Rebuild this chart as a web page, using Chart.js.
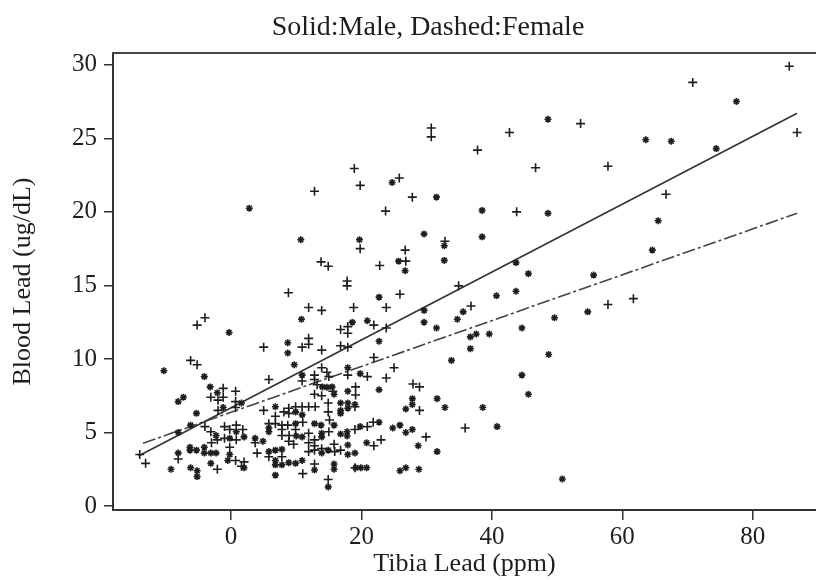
<!DOCTYPE html>
<html>
<head>
<meta charset="utf-8">
<script src="https://cdn.jsdelivr.net/npm/chart.js@4.4.1/dist/chart.umd.min.js"></script>
<style>
html,body{margin:0;padding:0;background:#fff;overflow:hidden;}
#wrap{width:816px;height:580px;position:relative;}
</style>
</head>
<body>
<div id="wrap"><canvas id="c"></canvas></div>
<script>
const titleText = "Solid:Male, Dashed:Female";
const xTitle = "Tibia Lead (ppm)";
const yTitle = "Blood Lead (ug/dL)";
const xTicks = [0, 20, 40, 60, 80];
const yTicks = [0, 5, 10, 15, 20, 25, 30];

// "+" markers: [tibia lead, blood lead]
const malePoints = [
 [30.7,25.7],[30.7,25.1],[18.9,22.95],[19.8,21.8],[12.8,21.4],[25.8,22.3],[27.8,21.0],[23.7,20.05],[19.8,17.5],[32.8,18.0],
 [26.7,17.4],[13.8,16.6],[14.9,16.3],[22.8,16.35],[26.8,16.65],[17.8,15.3],[17.8,14.97],[34.9,14.97],
 [85.6,29.9],[70.8,28.8],[86.8,25.4],[42.7,25.4],[53.6,26.0],[37.8,24.2],[46.7,23.0],[57.8,23.1],[43.8,20.0],[66.7,21.2],
 [36.8,13.6],[57.8,13.7],[61.7,14.1],[35.9,5.3],
 [-4.0,12.8],[-5.2,12.3],[-6.2,9.9],[-5.2,9.6],[-1.2,8.0],[0.7,7.8],
 [8.8,14.5],[11.9,13.5],[13.9,13.3],[18.8,13.5],[16.8,12.0],[17.9,12.2],[17.9,11.75],[11.9,11.4],[11.9,11.0],[10.9,10.8],
 [5.0,10.8],[13.9,10.6],[16.8,10.9],[17.9,10.8],[5.8,8.6],[13.9,9.4],[14.7,9.1],[17.9,8.9],[12.8,8.9],[12.8,8.6],
 [10.9,8.5],[15.0,8.8],[19.1,8.1],[13.2,8.25],
 [25.9,14.4],[23.8,13.5],[21.9,12.3],[23.8,12.1],[21.9,10.1],[25.0,9.4],[20.9,8.8],[23.8,8.7],[27.9,8.3],[28.9,8.1],
 [-3.1,7.4],[-2.0,7.2],[-1.2,7.4],[-2.0,6.5],[0.7,7.1],[0.7,6.7],[-4.0,5.4],[-3.1,5.05],[-1.0,5.4],[-0.2,5.2],
 [-1.0,4.6],[0.8,5.5],[1.8,5.2],[-3.0,4.3],[-2.1,4.5],[-0.2,4.0],[-8.1,3.2],[-14.0,3.5],[-13.1,2.9],[-2.1,2.5],
 [0.7,3.1],[1.6,2.7],[0.8,4.5],
 [12.8,7.6],[13.9,7.5],[15.6,7.8],[19.1,7.55],[5.0,6.5],[8.1,6.4],[8.85,6.65],[8.85,6.3],[9.9,6.75],[10.9,6.75],
 [11.9,6.75],[12.9,6.75],[14.9,7.0],[14.9,6.4],[19.0,6.75],[6.8,6.1],[5.8,5.6],[6.8,5.6],[7.8,5.5],[8.7,5.5],
 [11.0,5.7],[7.8,5.2],[9.9,5.2],[7.8,4.8],[8.9,4.8],[15.0,5.05],[19.0,5.2],[3.7,4.3],[4.0,3.6],[8.85,4.4],
 [9.6,4.2],[11.9,4.3],[12.8,4.5],[12.8,4.1],[12.8,3.8],[13.9,3.9],[11.9,3.7],[15.8,4.2],[15.9,3.7],[16.8,3.8],
 [5.8,3.35],[7.8,3.35],[11.0,2.2],[12.8,2.86],[14.9,1.8],[19.0,2.6],[2.0,3.0],[15.1,5.85],[11.9,4.95],
 [28.9,6.5],[20.9,5.4],[21.8,5.7],[29.9,4.7],[21.9,4.1],[23.0,4.5]
];

// "*" markers: [tibia lead, blood lead]
const femalePoints = [
 [2.8,20.25],[24.7,22.0],[31.5,21.0],[10.7,18.1],[19.7,18.1],[29.6,18.5],[32.7,17.7],[25.7,16.65],[26.7,16.0],[32.7,16.7],
 [77.5,27.5],[48.6,26.3],[63.6,24.9],[67.5,24.8],[74.4,24.3],[38.5,20.1],[48.6,19.9],[38.5,18.3],[65.5,19.4],[64.6,17.4],
 [43.7,16.55],[45.6,15.8],[55.6,15.7],
 [40.7,14.3],[43.7,14.6],[35.6,13.2],[34.7,12.7],[36.7,11.5],[37.6,11.7],[39.6,11.7],[44.6,12.1],[49.6,12.8],[54.7,13.2],
 [36.7,10.7],[33.8,9.9],[48.7,10.3],[44.6,8.9],[45.6,7.6],[38.6,6.7],[40.8,5.4],[50.8,1.84],
 [-0.3,11.8],[-10.3,9.2],[-4.1,8.8],[-3.2,8.1],[-2.1,7.7],
 [10.8,12.7],[18.6,12.5],[8.7,11.1],[8.7,10.4],[9.7,9.6],[17.9,9.4],[10.9,8.9],[14.0,8.1],[14.7,8.07],[15.5,8.1],
 [22.7,14.2],[20.9,12.6],[29.6,13.3],[29.6,12.5],[31.5,12.1],[22.7,11.2],[19.8,9.0],[22.7,7.9],
 [-8.1,7.1],[-7.3,7.4],[-1.2,6.7],[1.6,7.0],[-5.3,6.3],[-6.2,5.5],[-8.1,5.0],[-2.3,4.8],[-0.2,4.6],[-6.3,4.0],
 [-6.3,3.8],[-5.3,3.8],[-4.1,4.0],[-4.1,3.6],[-3.1,3.6],[-2.3,3.6],[-8.1,3.6],[-9.2,2.5],[-6.2,2.6],[-5.2,2.4],
 [-5.2,2.0],[-3.1,2.9],[-0.5,3.1],[-0.2,3.5],[0.8,5.05],
 [15.8,7.6],[17.9,7.8],[6.8,6.75],[9.9,6.4],[16.8,6.5],[16.8,6.3],[17.9,6.65],[5.8,5.3],[5.8,5.05],[9.9,5.6],
 [10.0,4.76],[10.9,4.7],[12.8,5.6],[13.8,5.5],[15.8,5.5],[13.9,4.95],[13.9,4.7],[16.8,4.9],[17.8,5.05],[17.8,4.76],
 [3.7,4.6],[4.9,4.4],[13.9,3.6],[14.9,3.8],[17.9,4.15],[17.9,3.5],[5.8,3.7],[6.8,3.8],[6.8,3.1],[7.8,3.85],
 [7.8,2.8],[8.85,2.95],[9.9,2.9],[10.9,3.1],[6.8,2.8],[6.8,2.1],[12.8,2.45],[15.8,2.86],[15.8,2.5],[14.9,1.3],
 [2.0,4.7],[2.0,2.6],[16.8,7.0],[17.9,7.0],[10.9,6.2],
 [27.8,7.3],[27.8,6.9],[26.8,6.6],[31.6,7.3],[32.8,6.7],[19.0,6.9],[19.8,5.4],[22.7,5.7],[24.8,5.3],[25.9,5.5],
 [26.8,5.0],[27.8,5.2],[20.8,4.3],[28.7,4.1],[31.6,3.7],[19.0,3.6],[19.1,2.6],[19.9,2.6],[20.8,2.6],[25.9,2.4],
 [26.8,2.6],[28.8,2.5]
];

// fitted line end points
const maleFit = [[-14.2, 3.4], [86.8, 26.7]];
const femaleFit = [[-13.5, 4.27], [86.8, 19.9]];

const xRange = [-18.1, 89.7];
const yRange = [-0.27, 30.8];

const toXY = arr => arr.map(p => ({x: p[0], y: p[1]}));
const ink = '#1e1e1e';
const serif = '"Liberation Serif", "Times New Roman", serif';

// title text and the top edge of the plot frame
const frameAndTitle = {
  id: 'frameAndTitle',
  afterDraw(chart) {
    const c = chart.ctx;
    const a = chart.chartArea;
    c.save();
    c.strokeStyle = '#444';
    c.lineWidth = 2;
    c.beginPath();
    c.moveTo(a.left - 1, a.top);
    c.lineTo(a.right, a.top);
    c.stroke();
    c.font = '28px ' + serif;
    c.fillStyle = ink;
    c.textAlign = 'center';
    c.textBaseline = 'middle';
    c.fillText(titleText, 428, 28);
    c.restore();
  }
};

new Chart(document.getElementById('c'), {
  type: 'scatter',
  data: {
    datasets: [
      {label: 'Male', data: toXY(malePoints), pointStyle: 'cross', pointRadius: 4.5, borderColor: ink, backgroundColor: ink, pointBorderWidth: 1.6},
      {label: 'Female', data: toXY(femalePoints), pointStyle: 'star', pointRadius: 3.5, borderColor: ink, backgroundColor: ink, pointBorderWidth: 1.6},
      {label: 'Male fit', data: toXY(maleFit), showLine: true, pointRadius: 0, borderColor: '#333', borderWidth: 1.6},
      {label: 'Female fit', data: toXY(femaleFit), showLine: true, pointRadius: 0, borderColor: '#444', borderWidth: 1.6, borderDash: [13, 3, 3, 3]}
    ]
  },
  options: {
    responsive: true,
    maintainAspectRatio: false,
    animation: false,
    devicePixelRatio: 1,
    layout: {autoPadding: false, padding: {top: 53, left: 0, right: 0, bottom: 0}},
    plugins: {legend: {display: false}, tooltip: {enabled: false}, title: {display: false}},
    scales: {
      x: {
        type: 'linear', position: 'bottom', min: xRange[0], max: xRange[1],
        afterBuildTicks: s => { s.ticks = xTicks.map(v => ({value: v})); },
        afterFit: s => { s.height = 70; s.paddingLeft = 0; s.paddingRight = 0; },
        grid: {drawOnChartArea: false, drawTicks: true, tickLength: 10, color: '#333', lineWidth: 1.5},
        border: {display: true, color: '#333', width: 2},
        ticks: {color: ink, font: {family: serif, size: 25}, padding: 2},
        title: {display: true, text: xTitle, color: ink, font: {family: serif, size: 26}, padding: {top: 0, bottom: 0}}
      },
      y: {
        type: 'linear', position: 'left', min: yRange[0], max: yRange[1],
        afterBuildTicks: s => { s.ticks = yTicks.map(v => ({value: v})); },
        afterFit: s => { s.width = 113; },
        grid: {drawOnChartArea: false, drawTicks: true, tickLength: 9, color: '#333', lineWidth: 1.5},
        border: {display: true, color: '#333', width: 2},
        ticks: {color: ink, font: {family: serif, size: 25}, padding: 7},
        title: {display: true, text: yTitle, color: ink, font: {family: serif, size: 26}, padding: {top: 8, bottom: 0}}
      }
    }
  },
  plugins: [frameAndTitle]
});
</script>
</body>
</html>
